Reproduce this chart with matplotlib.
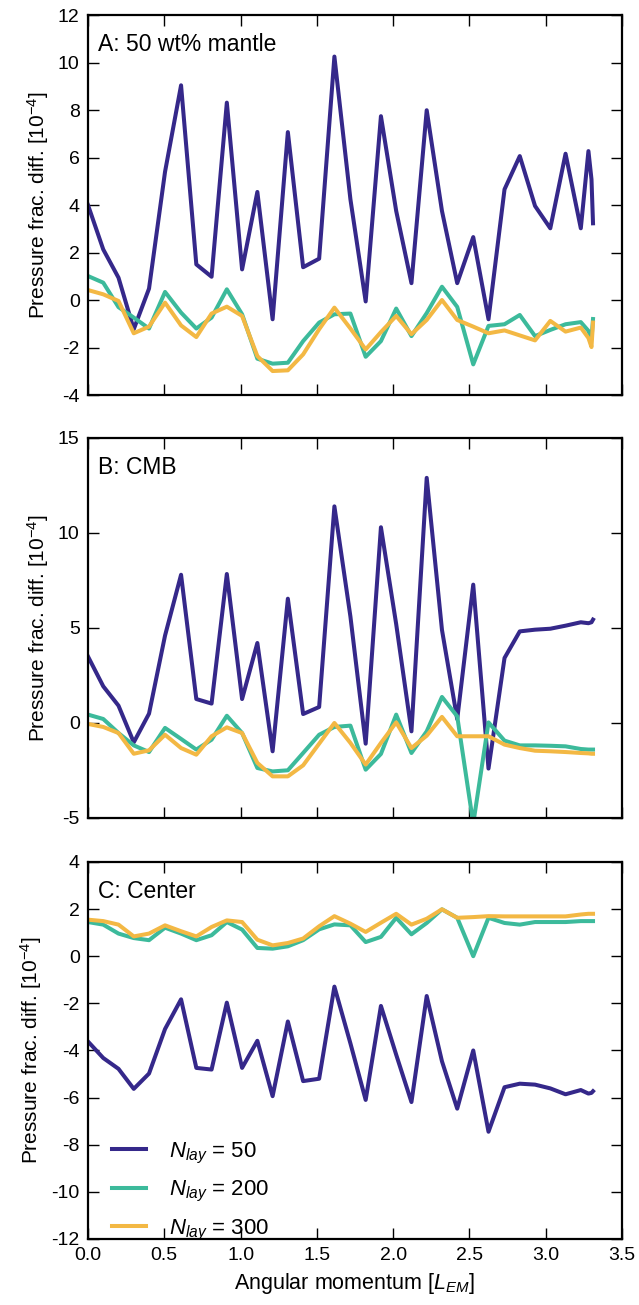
import matplotlib
matplotlib.use("Agg")
import matplotlib.pyplot as plt

plt.rcParams['font.family'] = ['Liberation Sans', 'DejaVu Sans']
plt.rcParams['mathtext.fontset'] = 'custom'
plt.rcParams['mathtext.rm'] = 'Liberation Sans'
plt.rcParams['mathtext.it'] = 'Liberation Sans:italic'
plt.rcParams['axes.unicode_minus'] = False

# angular momentum [L_EM]
x = [0.0, 0.10, 0.20, 0.30, 0.40, 0.505, 0.61, 0.71, 0.81, 0.91, 1.01, 1.11,
     1.21, 1.31, 1.41, 1.515, 1.615, 1.72, 1.82, 1.92, 2.02, 2.12, 2.22, 2.32,
     2.42, 2.525, 2.625, 2.73, 2.83, 2.93, 3.03, 3.13, 3.23, 3.28, 3.30, 3.31]

# A: 50 wt% mantle
a_50 = [4.0, 2.13, 0.94, -1.23, 0.48, 5.4, 9.04, 1.50, 0.98, 8.31, 1.29, 4.55,
        -0.81, 7.07, 1.38, 1.74, 10.25, 4.24, -0.06, 7.74, 3.75, 0.71, 7.99, 3.75,
        0.71, 2.65, -0.81, 4.66, 6.06, 3.96, 3.02, 6.16, 3.02, 6.27, 5.08, 3.23]
a_200 = [1.01, 0.73, -0.3, -0.74, -1.2, 0.34, -0.53, -1.2, -0.74, 0.45, -0.6, -2.47,
         -2.68, -2.64, -1.73, -0.95, -0.6, -0.57, -2.39, -1.73, -0.36, -1.52, -0.55, 0.56,
         -0.29, -2.71, -1.09, -1.02, -0.63, -1.52, -1.26, -1.02, -0.93, -1.3, -1.65, -0.8]
a_300 = [0.42, 0.24, -0.04, -1.4, -1.12, -0.11, -1.07, -1.56, -0.57, -0.28, -0.67, -2.36,
         -2.99, -2.96, -2.29, -1.23, -0.32, -1.2, -2.08, -1.35, -0.67, -1.44, -0.84, 0.0,
         -0.84, -1.12, -1.4, -1.28, -1.49, -1.7, -0.88, -1.33, -1.16, -1.6, -1.98, -0.95]

# B: CMB
b_50 = [3.5, 1.93, 0.91, -1.02, 0.49, 4.6, 7.8, 1.26, 1.02, 7.84, 1.26, 4.21,
        -1.49, 6.54, 0.47, 0.84, 11.4, 5.6, -1.09, 10.3, 5.2, -0.44, 12.9, 4.9,
        0.2, 7.28, -2.4, 3.42, 4.82, 4.91, 4.96, 5.12, 5.3, 5.25, 5.3, 5.44]
b_200 = [0.44, 0.21, -0.53, -1.18, -1.53, -0.26, -0.84, -1.4, -0.88, 0.38, -0.53, -2.37,
         -2.55, -2.49, -1.58, -0.62, -0.21, -0.14, -2.46, -1.63, 0.44, -1.58, -0.44, 1.37,
         0.35, -5.3, 0.03, -0.93, -1.18, -1.18, -1.2, -1.23, -1.37, -1.4, -1.4, -1.4]
b_300 = [-0.05, -0.21, -0.53, -1.62, -1.44, -0.62, -1.32, -1.67, -0.7, -0.23, -0.53, -2.1,
         -2.81, -2.81, -2.23, -1.09, 0.0, -1.05, -2.19, -1.05, 0.03, -1.32, -0.67, 0.32,
         -0.7, -0.7, -0.7, -1.14, -1.32, -1.46, -1.49, -1.53, -1.58, -1.6, -1.62, -1.62]

# C: Center
c_50 = [-3.62, -4.32, -4.78, -5.63, -4.98, -3.09, -1.83, -4.74, -4.81, -1.97, -4.74, -3.59,
        -5.94, -2.77, -5.3, -5.2, -1.29, -3.7, -6.1, -2.11, -4.18, -6.19, -1.69, -4.46,
        -6.47, -4.0, -7.45, -5.56, -5.41, -5.45, -5.61, -5.86, -5.68, -5.83, -5.8, -5.73]
c_200 = [1.45, 1.34, 0.96, 0.77, 0.68, 1.21, 0.96, 0.68, 0.89, 1.45, 1.13, 0.35,
         0.32, 0.42, 0.68, 1.14, 1.35, 1.31, 0.6, 0.82, 1.63, 0.93, 1.41, 1.99,
         1.63, 0.0, 1.63, 1.41, 1.34, 1.45, 1.45, 1.45, 1.49, 1.49, 1.49, 1.49]
c_300 = [1.55, 1.49, 1.34, 0.84, 0.96, 1.31, 1.06, 0.84, 1.24, 1.52, 1.45, 0.7,
         0.46, 0.56, 0.75, 1.27, 1.7, 1.38, 1.03, 1.42, 1.8, 1.34, 1.59, 1.99,
         1.63, 1.66, 1.7, 1.69, 1.69, 1.69, 1.69, 1.69, 1.77, 1.8, 1.8, 1.8]

labels = ['$N_{lay}$ = 50', '$N_{lay}$ = 200', '$N_{lay}$ = 300']
colors = ['#35288a', '#3cba9b', '#f3b844']
titles = ['A: 50 wt% mantle', 'B: CMB', 'C: Center']
ylims = [(-4, 12), (-5, 15), (-12, 4)]
ysteps = [2, 5, 2]
panels = [(a_50, a_200, a_300), (b_50, b_200, b_300), (c_50, c_200, c_300)]

fig = plt.figure(figsize=(6.39, 13.05), dpi=100)
# [left, bottom, width, height] for each panel
boxes = [[0.1377, 0.6973, 0.8357, 0.2912],
         [0.1377, 0.3732, 0.8357, 0.2912],
         [0.1377, 0.0506, 0.8357, 0.2889]]

for k in range(3):
    ax = fig.add_axes(boxes[k])
    for series, col, lab in zip(panels[k], colors, labels):
        ax.plot(x, series, color=col, lw=2.9, label=lab)
    lo, hi = ylims[k]
    ax.set_xlim(0, 3.5)
    ax.set_ylim(lo, hi)
    ax.set_yticks(range(lo, hi + 1, ysteps[k]))
    ax.set_xticks([0.0, 0.5, 1.0, 1.5, 2.0, 2.5, 3.0, 3.5])
    ax.tick_params(direction='in', length=8, width=1.0, top=True, right=True,
                   labelsize=14, pad=6)
    for sp in ax.spines.values():
        sp.set_linewidth(1.6)
    ax.set_ylabel('Pressure frac. diff. [$10^{-4}$]', fontsize=15, labelpad=5)
    ax.text(0.019, 0.922, titles[k], transform=ax.transAxes, fontsize=16.5,
            va='center', ha='left')
    if k < 2:
        ax.tick_params(labelbottom=False)
    else:
        ax.set_xticklabels(['0.0', '0.5', '1.0', '1.5', '2.0', '2.5', '3.0', '3.5'])
        ax.set_xlabel('Angular momentum [$L_{EM}$]', fontsize=15.5, labelpad=5)
        ax.legend(loc='lower left', bbox_to_anchor=(0.045, -0.01), frameon=False,
                  fontsize=16, handlelength=1.55, handletextpad=1.0,
                  labelspacing=0.6, borderpad=0, borderaxespad=0)

fig.savefig('out.png', dpi=100)
